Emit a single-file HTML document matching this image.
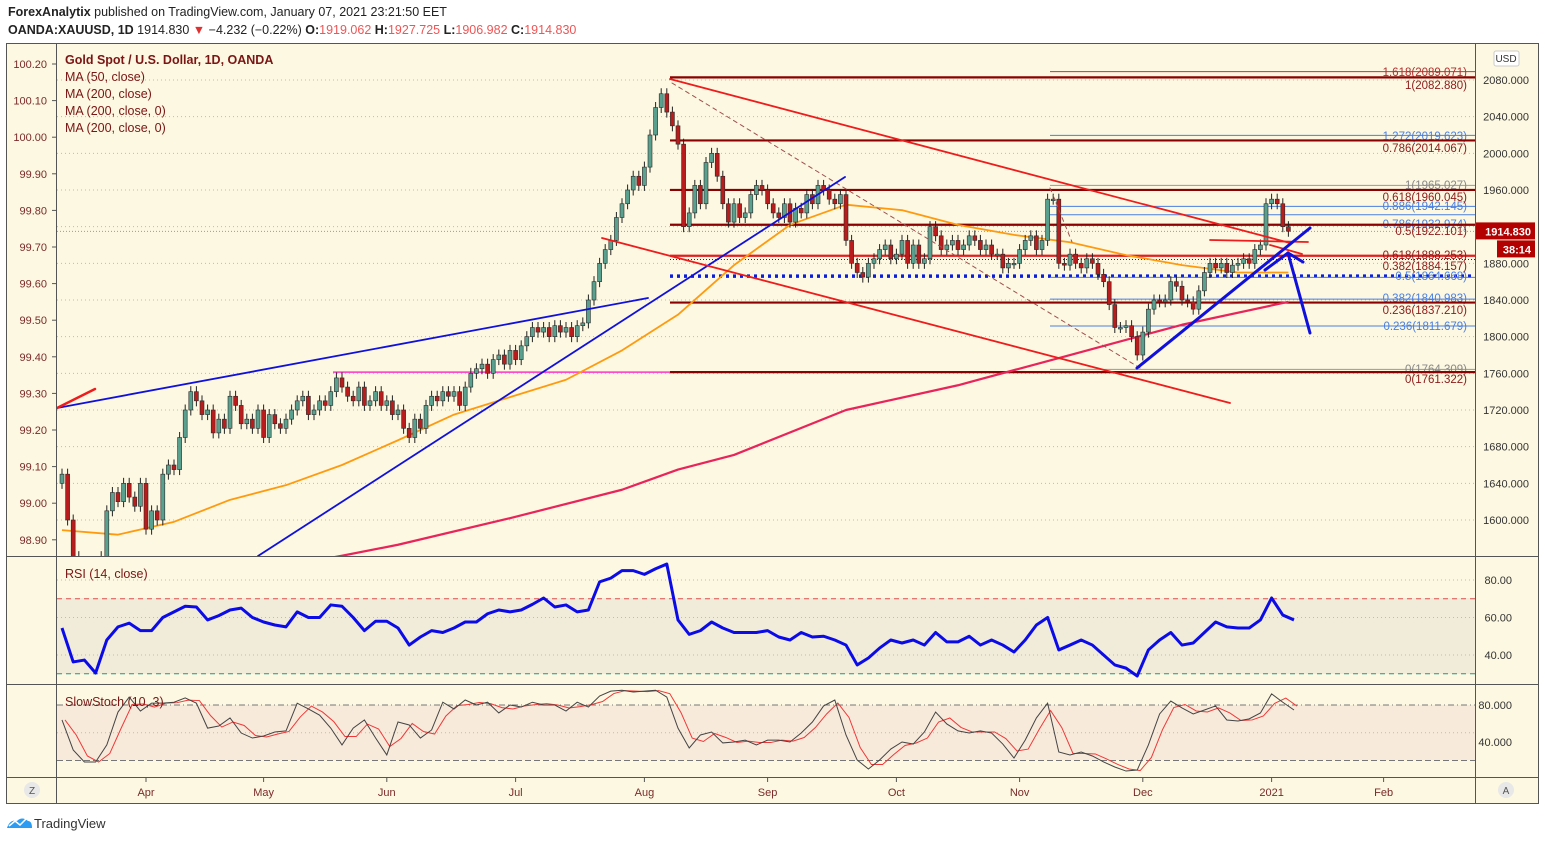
<!DOCTYPE html>
<html><head><meta charset="utf-8">
<style>
html,body{margin:0;padding:0;background:#fff;}
svg{display:block;font-family:"Liberation Sans",sans-serif;}
</style></head>
<body>
<svg id="chart" width="1545" height="841" viewBox="0 0 1545 841" xmlns="http://www.w3.org/2000/svg">
<defs>
<clipPath id="mainClip"><rect x="57" y="44" width="1418" height="512"/></clipPath>
<clipPath id="rsiClip"><rect x="57" y="557" width="1418" height="127"/></clipPath>
<clipPath id="stClip"><rect x="57" y="685" width="1418" height="92"/></clipPath>
</defs>
<text x="8" y="16" font-size="12.5" fill="#222"><tspan font-weight="bold">ForexAnalytix</tspan> published on TradingView.com, January 07, 2021 23:21:50 EET</text>
<text x="8" y="34" font-size="12.5" fill="#222"><tspan font-weight="bold">OANDA:XAUUSD, 1D</tspan> 1914.830 <tspan fill="#e03030">▼</tspan> −4.232 (−0.22%) <tspan font-weight="bold">O:</tspan><tspan fill="#e55">1919.062</tspan> <tspan font-weight="bold">H:</tspan><tspan fill="#e55">1927.725</tspan> <tspan font-weight="bold">L:</tspan><tspan fill="#e55">1906.982</tspan> <tspan font-weight="bold">C:</tspan><tspan fill="#e55">1914.830</tspan></text>
<rect x="6.5" y="43.5" width="1532" height="760" fill="#fdf8e1" stroke="#555"/>
<rect x="57" y="598" width="1418" height="76" fill="#f1ecda"/>
<rect x="57" y="705" width="1418" height="55" fill="#f7eadb"/>
<g id="grid"></g>
<g id="main" clip-path="url(#mainClip)"></g>
<g id="rsi" clip-path="url(#rsiClip)"></g>
<g id="stoch" clip-path="url(#stClip)"></g>
<g id="axes"></g>
<line x1="6" y1="556.5" x2="1538" y2="556.5" stroke="#555"/>
<line x1="6" y1="684.5" x2="1538" y2="684.5" stroke="#555"/>
<line x1="6" y1="777.5" x2="1538" y2="777.5" stroke="#555"/>
<line x1="56.5" y1="43" x2="56.5" y2="803" stroke="#555"/>
<line x1="1475.5" y1="43" x2="1475.5" y2="803" stroke="#555"/>
<text x="65" y="64" font-size="12.5" font-weight="bold" fill="#7a1515">Gold Spot / U.S. Dollar, 1D, OANDA</text>
<text x="65" y="81" font-size="12.5" fill="#7a1515">MA (50, close)</text>
<text x="65" y="98" font-size="12.5" fill="#7a1515">MA (200, close)</text>
<text x="65" y="115" font-size="12.5" fill="#7a1515">MA (200, close, 0)</text>
<text x="65" y="132" font-size="12.5" fill="#7a1515">MA (200, close, 0)</text>
<text x="65" y="578" font-size="12.5" fill="#7a1515">RSI (14, close)</text>
<text x="65" y="706" font-size="12.5" fill="#7a1515">SlowStoch (10, 3)</text>
<rect x="1494" y="51" width="25" height="15" rx="2" fill="#fff" stroke="#ccc"/>
<text x="1506" y="62" font-size="10" fill="#333" text-anchor="middle">USD</text>
<circle cx="32" cy="790" r="8" fill="#e8e8e8"/>
<text x="32" y="794" font-size="10" fill="#555" text-anchor="middle">Z</text>
<circle cx="1506" cy="790" r="8" fill="#e8e8e8"/>
<text x="1506" y="794" font-size="10" fill="#555" text-anchor="middle">A</text>
<g>
<path d="M7 828 q3 -9 10 -7 q5 -5 11 0 q4 0 4 7 z" fill="#2b9cf2"/>
<polyline points="9,826 15,821 20,825 27,818" fill="none" stroke="#fff" stroke-width="1.5"/>
<text x="34" y="828" font-size="13" fill="#333">TradingView</text>
</g>
</svg>
<script>
// ===== DATA =====
const closes=[1650,1600,1560,1480,1500,1520,1480,1560,1610,1630,
1620,1640,1625,1615,1640,1590,1610,1600,1650,1660,
1655,1690,1720,1740,1730,1715,1720,1695,1710,1700,
1735,1725,1705,1710,1700,1720,1690,1715,1705,1700,
1710,1720,1730,1735,1715,1720,1730,1725,1740,1755,
1745,1735,1730,1745,1725,1730,1740,1725,1730,1715,
1720,1700,1690,1710,1700,1725,1735,1730,1740,1735,
1740,1725,1745,1760,1765,1770,1760,1775,1780,1770,
1785,1775,1790,1800,1810,1805,1810,1800,1812,1805,
1810,1800,1812,1815,1840,1860,1880,1895,1905,1930,
1945,1960,1975,1965,1985,2020,2050,2065,2045,2030,
2010,1920,1935,1965,1945,1990,2000,1975,1945,1925,
1945,1930,1935,1955,1965,1960,1945,1935,1930,1945,
1925,1940,1935,1955,1945,1965,1960,1950,1945,1955,
1905,1880,1870,1865,1880,1885,1895,1900,1885,1890,
1905,1880,1900,1880,1885,1920,1910,1895,1900,1905,
1895,1900,1910,1905,1895,1900,1890,1890,1875,1880,
1880,1895,1905,1910,1895,1905,1950,1950,1880,1878,
1890,1880,1875,1885,1880,1868,1860,1835,1810,1810,
1812,1800,1780,1805,1830,1840,1838,1840,1860,1855,
1840,1838,1830,1850,1870,1880,1875,1880,1870,1878,
1880,1885,1880,1895,1900,1945,1950,1945,1920,1915];
const firstOpen=1640;
const ma50Idx=[0,10,20,30,40,50,60,70,80,90,100,110,120,130,140,150,160,170,180,190,200,210,219];
const ma50Val=[1589,1584,1598,1622,1638,1660,1687,1715,1734,1753,1785,1824,1878,1922,1944,1938,1922,1911,1903,1889,1878,1870,1870];
const ma200Idx=[40,50,60,80,100,110,120,140,160,180,200,219];
const ma200Val=[1550,1561,1573,1602,1633,1655,1671,1720,1747,1780,1813,1838];
const rsiVals=[54.4,36.3,37.3,30.4,48,55,57,53,53,60,63,66,65.6,58.7,61,64,65,60,57.6,56,55,63,60,60,66.7,66,60,53,58,58,54.4,45.3,49.6,53,52,54.4,57.6,57.6,62,64,63,64,67,70.4,65.6,66.7,63,64,79,81,85,85,83,86,88.5,58.7,51,53,57.6,54.4,52,52,52,53,49.6,48,52,49.6,50,48,45.3,34.7,38.4,43.7,48,46.4,48,45.3,52,47,47,50,45.3,48,45.3,41.6,48,56,60,42.7,45.3,48,45.3,40,34.7,33,28.8,42.7,48,52,45.3,46.4,52,57.6,55,54.4,54.4,58.7,70.4,61.3,58.7];
const stochK=[63.8,31.4,18.4,18.4,36.8,72.4,88.6,73.5,82,82,83,87.6,82,55,57.3,66,49.7,44.3,46.5,50.8,52,82,75.7,69,55,36.8,55,63.8,44.3,26,61.6,58.4,44.3,53,83,75.7,85.4,80,83,71.4,80,77.8,83,80,80,73.5,83,77.8,89.7,95,96,94,95,96,88.6,55,33.5,47.6,50.8,39,40,42,36.8,42,42,40,49.7,61.6,79,85.4,47.6,20.5,10.8,20.5,32.4,40,37.8,50.8,72.4,59.5,52,49.7,52,49.7,37.8,22.7,42,66,82,29.2,26,29.2,24.9,18.4,13,8.6,9.7,36.8,70.3,84.3,76.8,70.3,74.6,79,63.8,62.7,65,71.4,92,83,74.6];
const priceTicks=[2080,2040,2000,1960,1920,1880,1840,1800,1760,1720,1680,1640,1600];
const leftTicks=["100.20","100.10","100.00","99.90","99.80","99.70","99.60","99.50","99.40","99.30","99.20","99.10","99.00","98.90"];
const monthLabels=["Apr","May","Jun","Jul","Aug","Sep","Oct","Nov","Dec","2021","Feb"];
const monthBars=[15,36,58,81,104,126,149,171,193,216,236];
const fibLevels=[2082.88,2014.067,1960.045,1922.101,1888.253,1884.157,1837.21,1761.322];
const fibLabels=["1(2082.880)","0.786(2014.067)","0.618(1960.045)","0.5(1922.101)","0.618(1888.253)","0.382(1884.157)","0.236(1837.210)","0(1761.322)"];
const fib2Levels=[2089.071,2019.623,1965.027,1942.145,1932.974,1864.668,1840.983,1811.679,1764.309];
const fib2Labels=["1.618(2089.071)","1.272(2019.623)","1(1965.027)","0.886(1942.145)","0.786(1932.974)","0.5(1864.668)","0.382(1840.983)","0.236(1811.679)","0(1764.309)"];
const fib2Colors=["#d32f2f","#4a7fe0","#999","#4a7fe0","#4a7fe0","#4a7fe0","#4a7fe0","#4a7fe0","#999"];
// label vertical centers (layout, not data)
const fibLabelY=[85,148,197,231,255,266,310,379];
const fib2LabelY=[72,136,185,206,224,276,298,326,369];

// ===== SCALES =====
const X=i=>62+5.6*i;
const Y=p=>80+(2080-p)*0.91667;
const RY=v=>580+(80-v)*1.875;
const SY=v=>705+(80-v)*0.925;
const NS='http://www.w3.org/2000/svg';
function mk(tag,attrs,parent){const e=document.createElementNS(NS,tag);for(const k in attrs)e.setAttribute(k,attrs[k]);parent.appendChild(e);return e;}
const G=id=>document.getElementById(id);
const grid=G('grid'),main=G('main'),rsi=G('rsi'),st=G('stoch'),axes=G('axes');

priceTicks.forEach(p=>{
 const l=mk('line',{x1:57,x2:1475,y1:Y(p),y2:Y(p),stroke:'#bbb','stroke-dasharray':'1,3'},grid);
 
 
 const t=mk('text',{x:1529,y:Y(p)+4,'font-size':11,fill:'#333','text-anchor':'end'},axes);
 t.textContent=p.toFixed(3);
 
 
});
leftTicks.forEach((s,i)=>{
 const y=64+i*36.6;
 const t=mk('text',{x:47,y:y+4,'font-size':11,fill:'#7a2a2a','text-anchor':'end'},axes);
 t.textContent=s;
 
 
 mk('line',{x1:52,x2:57,y1:y,y2:y,stroke:'#555'},axes);
});
[80,60,40].forEach(v=>{
 mk('line',{x1:57,x2:1475,y1:RY(v),y2:RY(v),stroke:'#bbb','stroke-dasharray':'1,3'},grid);
 const t=mk('text',{x:1512,y:RY(v)+4,'font-size':11,fill:'#333','text-anchor':'end'},axes);t.textContent=v.toFixed(2);
 
 
});
mk('line',{x1:57,x2:1475,y1:RY(70),y2:RY(70),stroke:'#e05050','stroke-dasharray':'5,4'},grid);
mk('line',{x1:57,x2:1475,y1:RY(30),y2:RY(30),stroke:'#1a9a8a','stroke-dasharray':'5,4'},grid);
[80,40].forEach(v=>{
 const t=mk('text',{x:1512,y:SY(v)+4,'font-size':11,fill:'#333','text-anchor':'end'},axes);t.textContent=v.toFixed(3);
 
 
});
mk('line',{x1:57,x2:1475,y1:SY(80),y2:SY(80),stroke:'#777','stroke-dasharray':'6,3,1,3'},grid);
mk('line',{x1:57,x2:1475,y1:SY(20),y2:SY(20),stroke:'#777','stroke-dasharray':'6,3'},grid);
mk('line',{x1:57,x2:1475,y1:SY(50),y2:SY(50),stroke:'#bbb','stroke-dasharray':'1,3'},grid);
monthLabels.forEach((m,i)=>{
 const x=X(monthBars[i]);
 mk('line',{x1:x,x2:x,y1:777,y2:782,stroke:'#555'},axes);
 const t=mk('text',{x:x,y:796,'font-size':11,fill:'#7a2a2a','text-anchor':'middle'},axes);t.textContent=m;
 
 
});

function hline(x1,x2,y,color,w,dash,name){const l=mk('line',{x1:x1,x2:x2,y1:y,y2:y,stroke:color,'stroke-width':w},main);if(dash)l.setAttribute('stroke-dasharray',dash);
 
 return l;}
hline(670,1475,Y(1866),'#0a1ee0',3.5,'3,4','support-dotted-line');
hline(333,672,Y(1761.322),'#ff33cc',1.5,null,'pink-level');
fib2Levels.forEach((p,i)=>{
 hline(1050,1475,Y(p),fib2Colors[i],1,null,'fib-ext-level');
 const t=mk('text',{x:1467,y:fib2LabelY[i]+4,'font-size':11.5,fill:fib2Colors[i]==='#999'?'#888':(fib2Colors[i]==='#d32f2f'?'#b03030':'#4a7fe0'),'text-anchor':'end'},main);t.textContent=fib2Labels[i];
 
 
});
fibLevels.forEach((p,i)=>{
 const w=(i===5)?1:2.2;
 hline(670,1475,Y(p),i===4?'#e02020':'#8b0000',w,i===5?'1,2':null,'fib-level');
 const t=mk('text',{x:1467,y:fibLabelY[i]+4,'font-size':11.5,fill:'#8b1a1a','text-anchor':'end'},main);t.textContent=fibLabels[i];
 
 
});
hline(57,1475,Y(1914.83),'#999',1,'1,2','last-price-line');

function poly(idx,vals,color,w,parent,name){const pts=idx.map((k,j)=>X(k)+','+Y(vals[j])).join(' ');const p=mk('polyline',{points:pts,fill:'none',stroke:color,'stroke-width':w,'stroke-linejoin':'round'},parent);
 
 }
poly(ma200Idx,ma200Val,'#e8245a',2.2,main,'ma200-line');
poly(ma50Idx,ma50Val,'#ff9a0e',1.8,main,'ma50-line');

closes.forEach((c,i)=>{
 const o=i===0?firstOpen:closes[i-1];
 const hi=Math.max(o,c)+6, lo=Math.min(o,c)-6;
 const x=X(i), up=c>=o;
 const w=mk('line',{x1:x,x2:x,y1:Y(hi),y2:Y(lo),stroke:'#222','stroke-width':1},main);
 
 
 const top=Y(Math.max(o,c)), h=Math.max(1.5,Math.abs(Y(o)-Y(c)));
 const b=mk('rect',{x:x-2,y:top,width:4,height:h,fill:up?'#5aa08e':'#b81c1c',stroke:'#2a2a2a','stroke-width':0.6},main);
 
 
});

function seg(x1,y1,x2,y2,color,w,name,dash){const l=mk('line',{x1:x1,y1:y1,x2:x2,y2:y2,stroke:color,'stroke-width':w,'stroke-linecap':'round'},main);if(dash)l.setAttribute('stroke-dasharray',dash);
 
 }
seg(672,83,1140,368,'#a05050',1,'fib-diagonal','4,4');
seg(1050,188,1072,242,'#a05050',1,'fib-diagonal-2','4,4');
seg(57,408,648,298,'#1010dd',1.8,'blue-trendline-1');
seg(258,556,845,177,'#1010dd',1.8,'blue-trendline-2');
seg(670,79,1290,243,'#ee1c1c',1.8,'red-channel-upper');
seg(602,238,1230,403,'#ee1c1c',1.8,'red-channel-lower');
seg(57,408,95,389,'#ee1c1c',2.5,'red-short-line');
seg(1210,240,1308,242,'#ee1c1c',1.8,'red-horizontal-short');
seg(1270,245,1302,254,'#ee1c1c',1.8,'red-slope-short');
seg(1137,368,1310,228,'#1010dd',3,'blue-uptrend');
seg(1265,270,1288,253,'#1010dd',3,'arrow-left');
seg(1288,253,1303,262,'#1010dd',3,'arrow-right');
seg(1288,253,1310,333,'#1010dd',3,'arrow-shaft');

const rp=rsiVals.map((v,k)=>X(2*k)+','+RY(v)).join(' ');
const rl=mk('polyline',{points:rp,fill:'none',stroke:'#0b0be8','stroke-width':3,'stroke-linejoin':'round'},rsi);



const kp=stochK.map((v,k)=>X(2*k)+','+SY(v)).join(' ');
const dp=stochK.map((v,k)=>{const prev=k>0?stochK[k-1]:v;return (X(2*k)+3)+','+SY((v+prev)/2);}).join(' ');
const dl=mk('polyline',{points:dp,fill:'none',stroke:'#f03838','stroke-width':1},st);


const kl=mk('polyline',{points:kp,fill:'none',stroke:'#444','stroke-width':1},st);



const svg=G('chart');
const pl=mk('rect',{x:1476,y:Y(1914.83)-9,width:59,height:17,fill:'#b30000'},svg);


const pt=mk('text',{x:1531,y:Y(1914.83)+4,'font-size':11,'font-weight':'bold',fill:'#fff','text-anchor':'end'},svg);pt.textContent='1914.830';
const cl=mk('rect',{x:1497,y:Y(1914.83)+9,width:38,height:17,fill:'#b30000'},svg);


const ct=mk('text',{x:1531,y:Y(1914.83)+22,'font-size':11,'font-weight':'bold',fill:'#fff','text-anchor':'end'},svg);ct.textContent='38:14';
</script>
</body></html>
